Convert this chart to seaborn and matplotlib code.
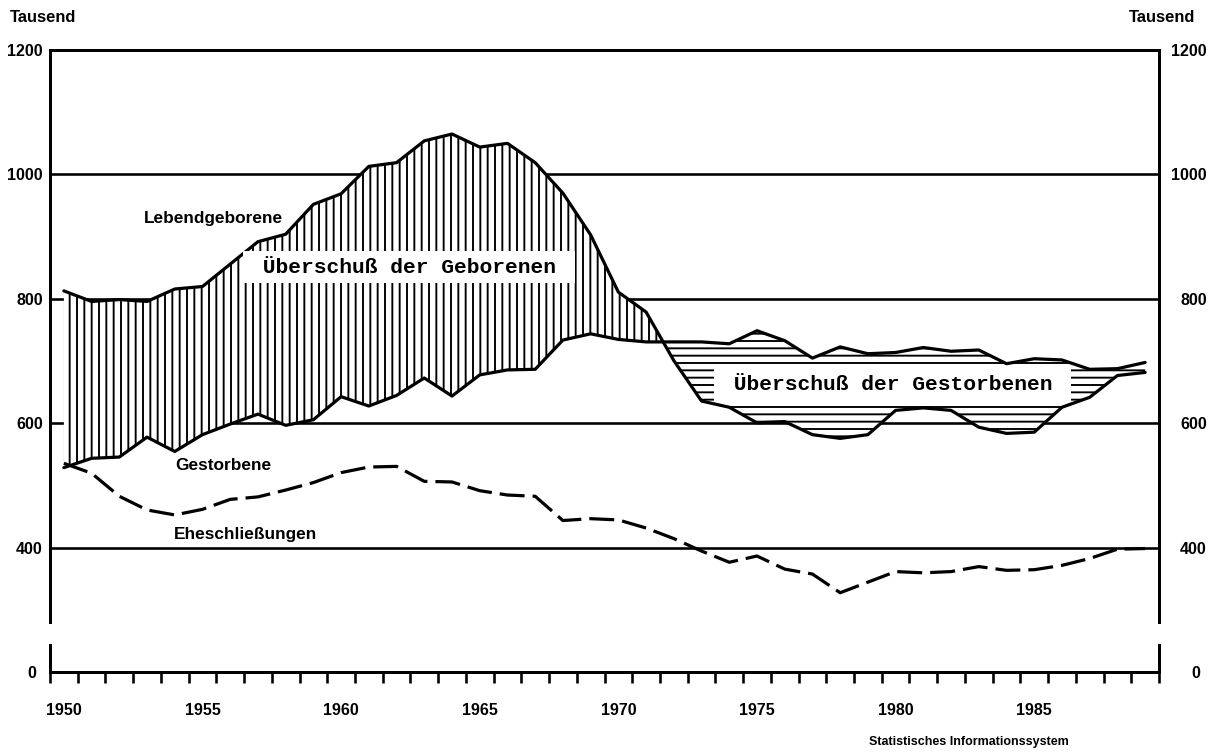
import matplotlib
matplotlib.use('Agg')
import matplotlib.pyplot as plt
from matplotlib import font_manager
import numpy as np
import pandas as pd
import seaborn as sns

# Werte in Tausend, je Kalenderjahr (gezeichnet zur Jahresmitte)
YEARS = list(range(1950, 1990))
LEBENDGEBORENE = [813, 796, 799, 796, 816, 820, 856, 892, 904, 952,
                  969, 1013, 1019, 1054, 1065, 1044, 1050, 1019, 970, 903,
                  811, 779, 701, 636, 626, 601, 603, 582, 576, 582,
                  621, 625, 621, 594, 584, 586, 626, 642, 677, 682]
GESTORBENE = [529, 544, 546, 578, 555, 582, 599, 615, 597, 606,
              643, 628, 645, 673, 644, 678, 686, 687, 734, 744,
              735, 731, 731, 731, 728, 749, 733, 705, 723, 712,
              714, 722, 716, 718, 696, 704, 702, 687, 688, 698]
EHESCHLIESSUNGEN = [536, 520, 483, 461, 453, 462, 478, 482, 493, 505,
                    521, 530, 531, 507, 506, 492, 485, 483, 444, 447,
                    445, 432, 415, 395, 377, 387, 366, 358, 328, 345,
                    362, 360, 362, 370, 364, 365, 372, 383, 398, 399]
Y_TICKS = [400, 600, 800, 1000, 1200]
YEAR_LABELS = [1950, 1955, 1960, 1965, 1970, 1975, 1980, 1985]

DPI = 88
W, H = 1215, 754


def px(v):
    # pixel -> points at the figure dpi
    return v * 72.0 / DPI


_names = {f.name for f in font_manager.fontManager.ttflist}
SANS = 'Liberation Sans' if 'Liberation Sans' in _names else 'DejaVu Sans'
MONO = 'Liberation Mono' if 'Liberation Mono' in _names else 'DejaVu Sans Mono'

sns.set_style('white')
plt.rcParams['font.family'] = ['DejaVu Sans']
plt.rcParams['hatch.linewidth'] = px(1.9)
plt.rcParams['text.color'] = 'black'
plt.rcParams['xtick.color'] = 'black'
plt.rcParams['ytick.color'] = 'black'

df = pd.DataFrame({
    'Jahr': np.array(YEARS) + 0.5,
    'Lebendgeborene': LEBENDGEBORENE,
    'Gestorbene': GESTORBENE,
    'Eheschliessungen': EHESCHLIESSUNGEN,
})

fig = plt.figure(figsize=(W / DPI, H / DPI), dpi=DPI)
X0, X1 = 50, 1159
ax = fig.add_axes([X0 / W, 1 - 622 / H, (X1 - X0) / W, (622 - 50) / H])
ax_low = fig.add_axes([X0 / W, 1 - 672 / H, (X1 - X0) / W, (672 - 645) / H])

tick_font = dict(family=SANS, weight='bold', size=px(16), color='black')

# --- upper panel ---
for v in Y_TICKS[:-1]:
    ax.axhline(v, color='black', lw=px(2.6), zorder=1)

x = df['Jahr'].to_numpy()
b = df['Lebendgeborene'].to_numpy()
d = df['Gestorbene'].to_numpy()
ax.fill_between(x, b, d, where=b >= d, interpolate=True, facecolor='white',
                edgecolor='black', hatch='||', linewidth=0, zorder=2)
ax.fill_between(x, b, d, where=b <= d, interpolate=True, facecolor='white',
                edgecolor='black', hatch='--', linewidth=0, zorder=2)

sns.lineplot(data=df, x='Jahr', y='Lebendgeborene', ax=ax, color='black',
             linewidth=px(3.2), zorder=4)
sns.lineplot(data=df, x='Jahr', y='Gestorbene', ax=ax, color='black',
             linewidth=px(3.2), zorder=4)
sns.lineplot(data=df, x='Jahr', y='Eheschliessungen', ax=ax, color='black',
             linewidth=px(3.2), linestyle=(0, (7.8, 2.5)), zorder=4)

ax.set_xlim(1950, 1990)
ax.set_ylim(281, 1200)
ax.set_xticks([])
ax.set_xlabel('')
ax.set_ylabel('')
ax.set_yticks(Y_TICKS)
ax.set_yticklabels([str(v) for v in Y_TICKS], fontdict=tick_font)
ax.tick_params(axis='y', length=0, pad=px(7))
ax.spines['bottom'].set_visible(False)
for s in ['left', 'right', 'top']:
    ax.spines[s].set_linewidth(px(3))
    ax.spines[s].set_color('black')

axr = ax.twinx()
axr.set_ylim(ax.get_ylim())
axr.set_yticks(Y_TICKS)
axr.set_yticklabels([str(v) for v in Y_TICKS], fontdict=tick_font, ha='right')
axr.tick_params(axis='y', length=0, pad=px(48))
for s in axr.spines.values():
    s.set_visible(False)

mono = dict(family=MONO, weight='bold', size=px(21.3), ha='center', va='center',
            zorder=5, color='black',
            bbox=dict(boxstyle='square,pad=0.3', facecolor='white', edgecolor='none'))
ax.text(1962.95, 851, ' Überschuß der Geborenen ', **mono)
ax.text(1980.4, 662, ' Überschuß der Gestorbenen ', **mono)

lab = dict(family=SANS, weight='bold', size=px(17.2), ha='center', va='center',
           zorder=5, color='black')
ax.text(1955.9, 930, 'Lebendgeborene', **lab)
ax.text(1956.25, 533, 'Gestorbene', **lab)
ax.text(1957.05, 421, 'Eheschließungen', **lab)

# --- lower panel (0 line with year ticks) ---
ax_low.set_xlim(1950, 1990)
ax_low.set_ylim(0, 43)
ax_low.set_yticks([0])
ax_low.set_yticklabels(['0'], fontdict=tick_font)
ax_low.tick_params(axis='y', length=0, pad=px(14))
ax_low.set_xticks(range(1950, 1991))
ax_low.set_xticklabels([])
ax_low.tick_params(axis='x', which='major', direction='out', length=px(11),
                   width=px(2.6), color='black', bottom=True)
ax_low.set_xticks([y + 0.5 for y in YEAR_LABELS], minor=True)
ax_low.set_xticklabels([str(y) for y in YEAR_LABELS], minor=True, fontdict=tick_font)
ax_low.tick_params(axis='x', which='minor', length=0, pad=px(31))
ax_low.spines['top'].set_visible(False)
for s in ['left', 'right', 'bottom']:
    ax_low.spines[s].set_linewidth(px(3))
    ax_low.spines[s].set_color('black')

axlr = ax_low.twinx()
axlr.set_ylim(ax_low.get_ylim())
axlr.set_yticks([0])
axlr.set_yticklabels(['0'], fontdict=tick_font, ha='right')
axlr.tick_params(axis='y', length=0, pad=px(41))
for s in axlr.spines.values():
    s.set_visible(False)

fig.text(10 / W, 1 - 18 / H, 'Tausend', ha='left', va='center', color='black',
         family=SANS, weight='bold', size=px(16.5))
fig.text(1162 / W, 1 - 18 / H, 'Tausend', ha='center', va='center', color='black',
         family=SANS, weight='bold', size=px(16.5))
fig.text(969 / W, 1 - 742 / H, 'Statistisches Informationssystem', ha='center',
         va='center', color='black', family=SANS, weight='bold', size=px(12.5))

fig.savefig('out.png', dpi=DPI)
plt.close(fig)
